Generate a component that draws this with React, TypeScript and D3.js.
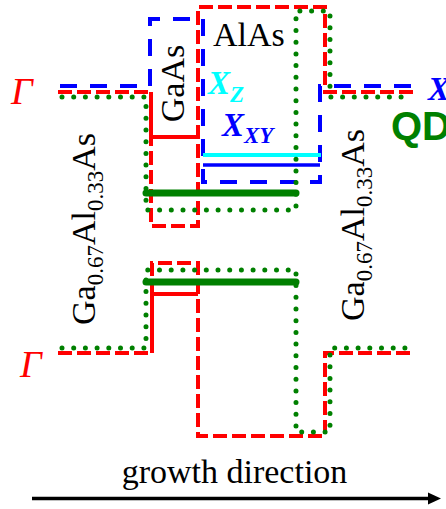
import React from 'react';
import * as d3 from 'd3';

const W = 446;
const H = 509;

// growth position (arb. units) and energy (arb. units) of each band profile
const gammaCB: [number, number][] = [[0, 344], [93, 344], [93, 210], [140, 210], [140, 429], [267, 429], [267, 344], [357, 344]];
const gammaCBLevel: [number, number][] = [[93, 344], [93, 299], [140, 299]];
const xBand: [number, number][] = [[2, 350], [92, 350], [92, 417], [145, 417], [145, 254], [262, 254], [262, 350], [357, 350]];
const xzLevel: [number, number][] = [[145, 281], [263, 281]];
const xxyLevel: [number, number][] = [[145, 271], [262, 271]];
const qdCB: [number, number][] = [[4, 339], [88, 339], [88, 226], [238, 226], [238, 425], [272, 425], [272, 339], [348, 339]];
const qdCBLevel: [number, number][] = [[88, 243], [238, 243]];
const gammaVB: [number, number][] = [[0, 83], [94, 83], [94, 173], [140, 173], [140, 0], [267, 0], [267, 83], [355, 83]];
const gammaVBLevel: [number, number][] = [[94, 83], [94, 142], [140, 142]];
const qdVB: [number, number][] = [[4, 88], [88, 88], [88, 166], [238, 166], [238, 4], [272, 4], [272, 88], [353, 88]];
const qdVBLevel: [number, number][] = [[88, 154], [238, 154]];

const xScale = d3.scaleLinear().domain([0, 358]).range([58, 416]);
const yScale = d3.scaleLinear().domain([0, 429]).range([436, 7]);
const line = d3.line<[number, number]>().x(d => xScale(d[0])).y(d => yScale(d[1]));

const serif = '"Liberation Serif", "Times New Roman", Times, serif';
const sans = '"Liberation Sans", Arial, Helvetica, sans-serif';

const RED = '#ff0000';
const BLUE = '#0000ff';
const GREEN = '#008000';
const CYAN = '#00ffff';

export default function App() {
  const redDash = { fill: 'none', stroke: RED, strokeWidth: 4, strokeDasharray: '14 5' };
  const blueDash = { fill: 'none', stroke: BLUE, strokeWidth: 4, strokeDasharray: '17 13' };
  const greenDot = { fill: 'none', stroke: GREEN, strokeWidth: 5, strokeDasharray: '0 11.7', strokeLinecap: 'round' as const };
  return (
    <svg width={W} height={H} style={{ position: 'absolute', left: 0, top: 0, background: '#fff' }}>
      {/* conduction band */}
      <path d={line(gammaCB) || ''} {...redDash} />
      <path d={line(xBand) || ''} {...blueDash} />
      <path d={line(gammaCBLevel) || ''} fill="none" stroke={RED} strokeWidth={4} />
      <path d={line(xzLevel) || ''} fill="none" stroke={CYAN} strokeWidth={4} />
      <path d={line(xxyLevel) || ''} fill="none" stroke={BLUE} strokeWidth={3.5} />
      <path d={line(qdCB) || ''} {...greenDot} />
      <path d={line(qdCBLevel) || ''} fill="none" stroke={GREEN} strokeWidth={7} strokeLinecap="round" />
      {/* valence band */}
      <path d={line(gammaVB) || ''} {...redDash} />
      <path d={line(gammaVBLevel) || ''} fill="none" stroke={RED} strokeWidth={4} />
      <path d={line(qdVB) || ''} {...greenDot} />
      <path d={line(qdVBLevel) || ''} fill="none" stroke={GREEN} strokeWidth={7} strokeLinecap="round" />

      {/* labels */}
      <text x={11} y={104} fill={RED} fontFamily={serif} fontStyle="italic" fontSize={38}>Γ</text>
      <text x={20} y={377} fill={RED} fontFamily={serif} fontStyle="italic" fontSize={38}>Γ</text>
      <text x={213} y={46} fill="#000" fontFamily={serif} fontSize={34}>AlAs</text>
      <text transform="translate(184,83.5) rotate(-90)" textAnchor="middle" fill="#000" fontFamily={serif} fontSize={34}>GaAs</text>
      <text x={208} y={94} fill={CYAN} fontFamily={serif} fontStyle="italic" fontWeight="bold" fontSize={33}>
        X<tspan fontSize={23} dy={8}>Z</tspan>
      </text>
      <text x={222} y={136} fill={BLUE} fontFamily={serif} fontStyle="italic" fontWeight="bold" fontSize={33}>
        X<tspan fontSize={23} dy={7}>XY</tspan>
      </text>
      <text x={428} y={100} fill={BLUE} fontFamily={serif} fontStyle="italic" fontWeight="bold" fontSize={33}>X</text>
      <text x={391} y={140} fill={GREEN} fontFamily={sans} fontWeight="bold" fontSize={40}>QD</text>
      <text transform="translate(95,229) rotate(-90)" textAnchor="middle" fill="#000" fontFamily={serif} fontSize={34}>
        Ga<tspan fontSize={23} dy={8}>0.67</tspan><tspan dy={-8}>Al</tspan><tspan fontSize={23} dy={8}>0.33</tspan><tspan dy={-8}>As</tspan>
      </text>
      <text transform="translate(364,225) rotate(-90)" textAnchor="middle" fill="#000" fontFamily={serif} fontSize={34}>
        Ga<tspan fontSize={23} dy={8}>0.67</tspan><tspan dy={-8}>Al</tspan><tspan fontSize={23} dy={8}>0.33</tspan><tspan dy={-8}>As</tspan>
      </text>

      {/* growth direction axis */}
      <text x={234.5} y={483} textAnchor="middle" fill="#000" fontFamily={serif} fontSize={34}>growth direction</text>
      <line x1={32} y1={498.5} x2={430} y2={498.5} stroke="#000" strokeWidth={3.5} />
      <path d="M428,492.5 L441,498.5 L428,504.5 Z" fill="#000" />
    </svg>
  );
}
